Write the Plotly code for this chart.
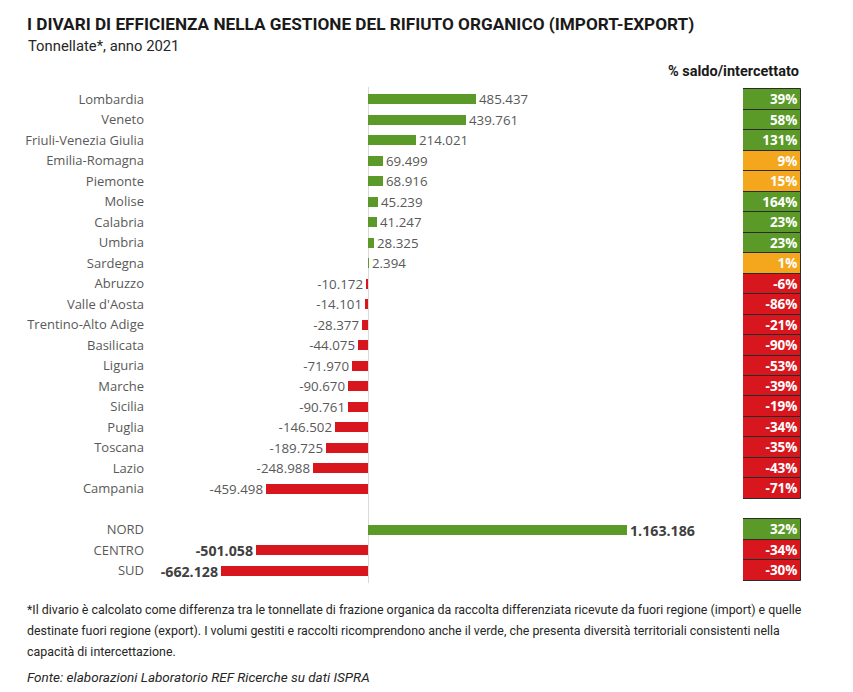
import plotly.graph_objects as go

regions = ["Lombardia", "Veneto", "Friuli-Venezia Giulia", "Emilia-Romagna", "Piemonte",
           "Molise", "Calabria", "Umbria", "Sardegna", "Abruzzo", "Valle d'Aosta",
           "Trentino-Alto Adige", "Basilicata", "Liguria", "Marche", "Sicilia", "Puglia",
           "Toscana", "Lazio", "Campania"]
region_values = [485437, 439761, 214021, 69499, 68916, 45239, 41247, 28325, 2394,
                 -10172, -14101, -28377, -44075, -71970, -90670, -90761, -146502,
                 -189725, -248988, -459498]
region_pct = [39, 58, 131, 9, 15, 164, 23, 23, 1, -6, -86, -21, -90, -53, -39, -19,
              -34, -35, -43, -71]

macro = ["NORD", "CENTRO", "SUD"]
macro_values = [1163186, -501058, -662128]
macro_pct = [32, -34, -30]

footnote_lines = [
    "*Il divario è calcolato come differenza tra le tonnellate di frazione organica da raccolta differenziata ricevute da fuori regione (import) e quelle",
    "destinate fuori regione (export). I volumi gestiti e raccolti ricomprendono anche il verde, che presenta diversità territoriali consistenti nella",
    "capacità di intercettazione.",
]

GREEN = "#5b9a28"
RED = "#d8161d"
ORANGE = "#f4a71c"

W, H = 853, 692
ML, MR, MT, MB = 150, 20, 87, 109
PW, PH = W - ML - MR, H - MT - MB

def px_x(px):
    return (px - ML) / PW

def px_y(py):
    return (H - MB - py) / PH

def fmt(v):
    return f"{v:,}".replace(",", ".")

def pct_color(p):
    if p < 0:
        return RED
    if p < 20:
        return ORANGE
    return GREEN

reg_pos = list(range(len(regions)))
mac_pos = [len(regions) + 1 + i for i in range(len(macro))]

fig = go.Figure()

fig.add_trace(go.Bar(
    orientation="h", y=reg_pos, x=region_values, width=0.5,
    marker=dict(color=[GREEN if v >= 0 else RED for v in region_values], line=dict(width=0)),
    text=[fmt(v) for v in region_values], textposition="outside", constraintext="none",
    textfont=dict(family="Open Sans", size=13.3, color="#595959"),
    cliponaxis=False, hoverinfo="skip", showlegend=False,
))
fig.add_trace(go.Bar(
    orientation="h", y=mac_pos, x=macro_values, width=0.5,
    marker=dict(color=[GREEN if v >= 0 else RED for v in macro_values], line=dict(width=0)),
    text=["<b>" + fmt(v) + "</b>" for v in macro_values], textposition="outside",
    constraintext="none",
    textfont=dict(family="Open Sans", size=14.2, color="#404040"),
    cliponaxis=False, hoverinfo="skip", showlegend=False,
))

all_pos = reg_pos + mac_pos
all_pct = region_pct + macro_pct
fig.add_trace(go.Bar(
    orientation="h", y=all_pos, x=[1] * len(all_pos), width=1.0,
    xaxis="x2", yaxis="y",
    marker=dict(color=[pct_color(p) for p in all_pct], line=dict(color="#2b2b2b", width=1)),
    text=[f"<b>{p}%</b>" for p in all_pct], textposition="inside",
    insidetextanchor="end", constraintext="none",
    textfont=dict(family="Open Sans", size=13.5, color="white"),
    hoverinfo="skip", showlegend=False,
))

scale = 0.0002226  # px per tonne
zero_px = 368
main_right_px = ML + 0.84 * PW
x_min = -(zero_px - ML) / scale
x_max = (main_right_px - zero_px) / scale

annotations = [
    dict(text="<b>I DIVARI DI EFFICIENZA NELLA GESTIONE DEL RIFIUTO ORGANICO (IMPORT-EXPORT)</b>",
         x=px_x(25), y=px_y(24), xref="paper", yref="paper", xanchor="left", yanchor="middle",
         showarrow=False, font=dict(family="Roboto", size=17.2, color="#1a1a1a")),
    dict(text="Tonnellate*, anno 2021",
         x=px_x(26), y=px_y(46), xref="paper", yref="paper", xanchor="left", yanchor="middle",
         showarrow=False, font=dict(family="Roboto", size=14.8, color="#262626")),
    dict(text="<b>% saldo/intercettato</b>",
         x=px_x(801), y=px_y(72), xref="paper", yref="paper", xanchor="right", yanchor="middle",
         showarrow=False, font=dict(family="Roboto", size=14.5, color="#1a1a1a")),
    dict(text="<i>Fonte: elaborazioni Laboratorio REF Ricerche su dati ISPRA</i>",
         x=px_x(25), y=px_y(677), xref="paper", yref="paper", xanchor="left", yanchor="middle",
         showarrow=False, font=dict(family="Roboto", size=13.5, color="#262626")),
]
for i, line in enumerate(footnote_lines):
    annotations.append(dict(
        text=line, x=px_x(25), y=px_y(609 + 21 * i), xref="paper", yref="paper",
        xanchor="left", yanchor="middle", align="left", showarrow=False,
        font=dict(family="Roboto", size=12.4, color="#262626")))

fig.update_layout(
    width=W, height=H,
    margin=dict(l=ML, r=MR, t=MT, b=MB),
    paper_bgcolor="white", plot_bgcolor="white",
    bargap=0,
    xaxis=dict(domain=[0, 0.84], range=[x_min, x_max], showgrid=False,
               zeroline=True, zerolinecolor="#d9d9d9", zerolinewidth=1,
               showticklabels=False, ticks=""),
    xaxis2=dict(domain=[px_x(743), px_x(801)], range=[0, 1], showgrid=False,
                zeroline=False, showticklabels=False, anchor="y"),
    yaxis=dict(range=[len(regions) + len(macro) + 0.6, -0.6], tickvals=all_pos,
               ticktext=regions + macro, showgrid=False, zeroline=False,
               tickfont=dict(family="Open Sans", size=13, color="#595959"),
               ticks="", ticklabelstandoff=5),
    annotations=annotations,
)

fig.write_html("out.html")
